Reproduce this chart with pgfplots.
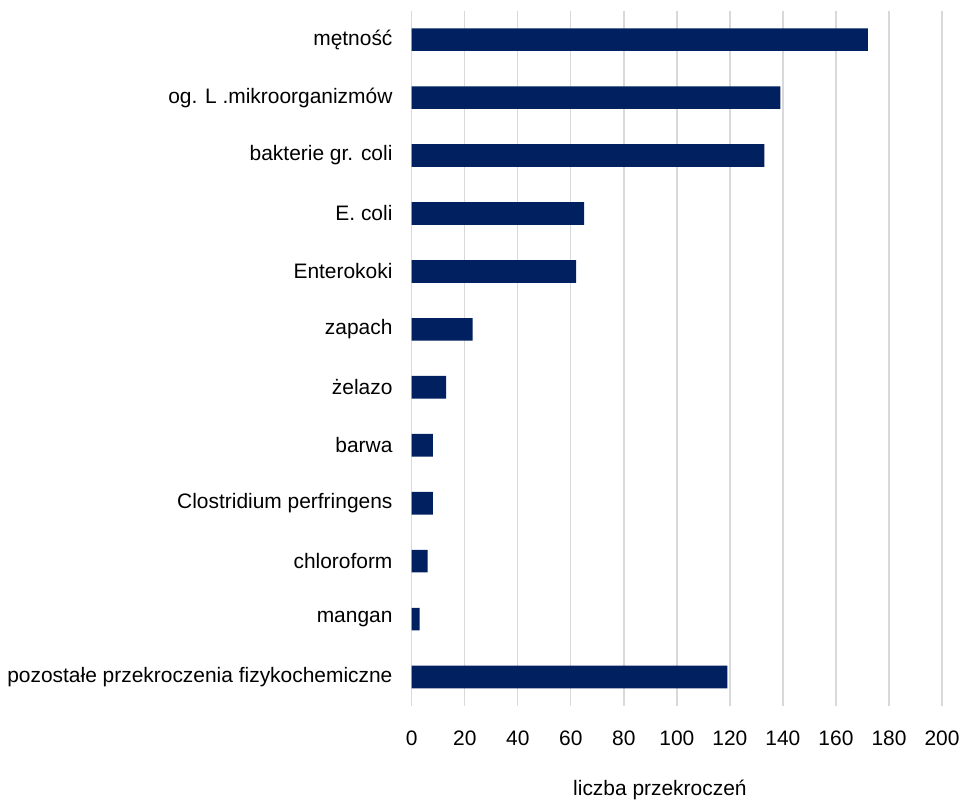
\documentclass[border=0pt]{standalone}
\usepackage{fontspec}
\setmainfont{Liberation Sans}
\usepackage{pgfplots}
\pgfplotsset{compat=1.18}
\definecolor{barblue}{RGB}{0,32,96}
\definecolor{gridgray}{RGB}{217,217,217}
\begin{document}
\begin{tikzpicture}
\path[use as bounding box] (0,0) rectangle (721.5pt,600.75pt);
\begin{axis}[
  at={(308.8pt,71.25pt)}, anchor=south west,
  scale only axis, width=397.7pt, height=521.5pt,
  xbar, bar width=17pt,
  xmin=0, xmax=200, xtick distance=20,
  ymin=-0.5, ymax=11.5, y dir=reverse,
  ytick={0,...,11},
  yticklabels={mętność, og. L .mikroorganizmów, bakterie gr. coli, E. coli, Enterokoki, zapach, żelazo, barwa, Clostridium perfringens, chloroform, mangan, pozostałe przekroczenia fizykochemiczne},
  axis line style={draw=none},
  major tick style={draw=none},
  xmajorgrids, grid style={gridgray, line width=1pt},
  font=\fontsize{15.7}{18}\selectfont,
  /pgf/number format/assume math mode=true,
  xticklabel style={anchor=center, yshift=-24pt, font=\fontsize{15.7}{18}\selectfont},
  yticklabel style={anchor=east, inner sep=0pt, xshift=-10pt, font=\fontsize{15.7}{18}\selectfont},
  xlabel={liczba przekroczeń},
  xlabel style={at={(axis description cs:0.468,0)}, anchor=center, yshift=-63pt, font=\fontsize{15.7}{18}\selectfont},
]
\addplot[fill=barblue, draw=none] coordinates {
(172,0) (139,1) (133,2) (65,3) (62,4) (23,5) (13,6) (8,7) (8,8) (6,9) (3,10) (119,11)
};
\end{axis}
\end{tikzpicture}
\end{document}
